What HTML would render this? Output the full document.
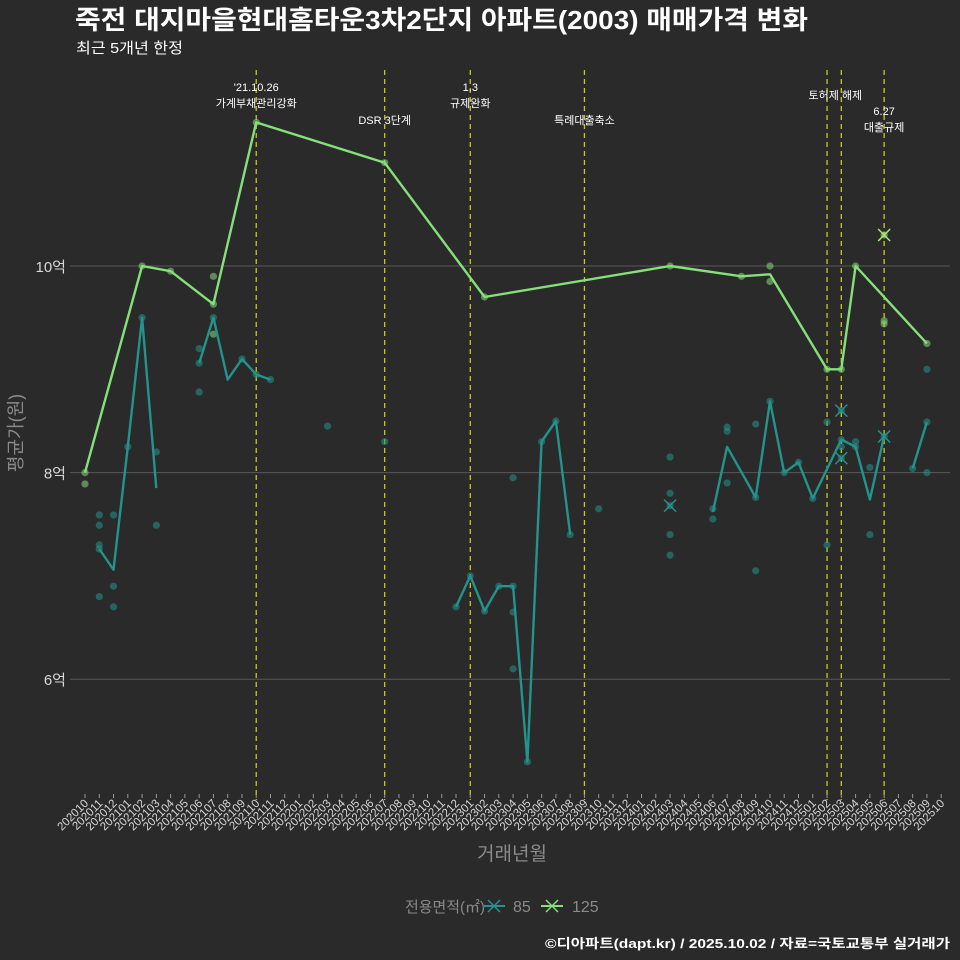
<!DOCTYPE html>
<html><head><meta charset="utf-8"><style>
html,body{margin:0;padding:0;background:#2a2a2a;}
svg{display:block;font-family:"Liberation Sans","Noto Sans CJK KR",sans-serif;}
</style></head><body>
<svg id="chart" width="960" height="960" viewBox="0 0 960 960" xmlns="http://www.w3.org/2000/svg">
<rect width="960" height="960" fill="#2a2a2a"/>
<text x="75" y="29" font-size="26" font-weight="bold" fill="#ffffff" textLength="733" lengthAdjust="spacingAndGlyphs">죽전 대지마을현대홈타운3차2단지 아파트(2003) 매매가격 변화</text>
<text x="76" y="53" font-size="15" fill="#ffffff" textLength="107" lengthAdjust="spacingAndGlyphs">최근 5개년 한정</text>
<g id="grid"></g><g id="vlines"></g><g id="marks"></g><g id="axes"></g>
<text transform="translate(22,433) rotate(-90)" text-anchor="middle" font-size="18" fill="#8a8a8a">평균가(원)</text>
<text x="512" y="860" text-anchor="middle" font-size="19" fill="#8a8a8a">거래년월</text>
<g>
<text x="405" y="912" font-size="15" fill="#8a8a8a" textLength="80" lengthAdjust="spacingAndGlyphs">전용면적(㎡)</text>
<g><line x1="483" y1="906" x2="505" y2="906" stroke="#23938c" stroke-width="2"/><path d="M488 900 L500 912 M500 900 L488 912" stroke="#23938c" stroke-width="1.5"/><text x="513" y="912" font-size="16" fill="#8a8a8a">85</text></g>
<g><line x1="541" y1="906" x2="563" y2="906" stroke="#86e07a" stroke-width="2"/><path d="M546 900 L558 912 M558 900 L546 912" stroke="#86e07a" stroke-width="1.5"/><text x="572" y="912" font-size="16" fill="#8a8a8a">125</text></g>
</g>
<text x="950" y="948" text-anchor="end" font-size="13" font-weight="bold" fill="#ffffff" textLength="405" lengthAdjust="spacingAndGlyphs">©디아파트(dapt.kr) / 2025.10.02 / 자료=국토교통부 실거래가</text>
</svg>
<script>
const yTicks = [6, 8, 10];
const yTickLabels = ['6억', '8억', '10억'];
const months = [];
for (let y = 2020, m = 10; months.length < 61; ) { months.push(y + String(m).padStart(2, '0')); m++; if (m > 12) { m = 1; y++; } }
const line125Idx = [0, 4, 6, 9, 12, 21, 28, 41, 46, 48, 52, 53, 54, 59];
const line125Val = [8.0, 10.0, 9.95, 9.63, 11.39, 11.0, 9.7, 10.0, 9.9, 9.92, 9.0, 9.0, 10.0, 9.25];
const line85Idx = [1, 2, 3, 4, 5, null, 8, 9, 10, 11, 12, 13, null, 26, 27, 28, 29, 30, 31, 32, 33, 34, null, 44, 45, 47, 48, 49, 50, 51, 53, 54, 55, 56, null, 58, 59];
const line85Val = [7.26, 7.06, 8.25, 9.5, 7.85, null, 9.06, 9.5, 8.9, 9.1, 8.95, 8.9, null, 6.7, 7.0, 6.66, 6.9, 6.9, 5.2, 8.3, 8.5, 7.4, null, 7.62, 8.25, 7.76, 8.69, 8.0, 8.1, 7.75, 8.32, 8.25, 7.74, 8.35, null, 8.04, 8.49];
const pts85Idx = [1, 1, 1, 1, 1, 2, 2, 2, 3, 4, 5, 5, 8, 8, 8, 9, 11, 12, 13, 17, 21, 26, 27, 28, 29, 30, 30, 30, 30, 31, 32, 33, 34, 36, 41, 41, 41, 41, 44, 44, 45, 45, 45, 47, 47, 47, 48, 49, 50, 51, 52, 52, 53, 53, 54, 54, 55, 55, 58, 59, 59, 59];
const pts85Val = [7.59, 7.49, 7.3, 7.26, 6.8, 7.59, 6.9, 6.7, 8.25, 9.5, 8.2, 7.49, 9.2, 8.78, 9.06, 9.5, 9.1, 8.95, 8.9, 8.45, 8.3, 6.7, 7.0, 6.66, 6.9, 6.9, 6.65, 6.1, 7.95, 5.2, 8.3, 8.5, 7.4, 7.65, 8.15, 7.8, 7.4, 7.2, 7.65, 7.55, 8.44, 8.4, 7.9, 7.76, 8.47, 7.05, 8.69, 8.0, 8.1, 7.75, 8.49, 7.3, 8.32, 8.25, 8.25, 8.3, 8.05, 7.4, 8.04, 8.49, 9.0, 8.0];
const cross85Idx = [41, 53, 53, 56];
const cross85Val = [7.68, 8.6, 8.14, 8.35];
const pts125Idx = [0, 0, 4, 6, 9, 9, 9, 12, 21, 28, 41, 46, 48, 48, 52, 53, 54, 56, 56, 59];
const pts125Val = [8.0, 7.89, 10.0, 9.95, 9.63, 9.9, 9.34, 11.39, 11.0, 9.7, 10.0, 9.9, 10.0, 9.85, 9.0, 9.0, 10.0, 9.47, 9.44, 9.25];
const cross125Idx = [56];
const cross125Val = [10.3];
const eventIdx = [12, 21, 27, 35, 52, 53, 56];
const eventLabels = [["'21.10.26", "가계부채관리강화"], ["DSR 3단계"], ["1.3", "규제완화"], ["특례대출축소"], [], ["토허제 해제"], ["6.27", "대출규제"]];
const eventLabelY = [91, 124, 91, 124, 0, 99, 115];

const X0 = 85, DX = 14.27;
const xs = i => X0 + i * DX;
const ys = v => 266 + (10 - v) * 103.3;
const NS = 'http://www.w3.org/2000/svg';
function mk(tag, attrs, parent) { const e = document.createElementNS(NS, tag); for (const k in attrs) e.setAttribute(k, attrs[k]); parent.appendChild(e); return e; }
const grid = document.getElementById('grid'), vl = document.getElementById('vlines'), marks = document.getElementById('marks'), axes = document.getElementById('axes');

yTicks.forEach((v, i) => {
  const l = mk('line', { x1: 70, x2: 950, y1: ys(v), y2: ys(v), stroke: '#585858', 'stroke-width': 1 }, grid);
  
  
  const t = mk('text', { x: 66, y: ys(v) + 6, 'text-anchor': 'end', 'font-size': 15, fill: '#d8d8d8' }, axes);
  t.textContent = yTickLabels[i];
  
  
});
months.forEach((m, i) => {
  const tk = mk('line', { x1: xs(i), x2: xs(i), y1: 794, y2: 798, stroke: '#999', 'stroke-width': 1 }, axes);
  
  
  const t = mk('text', { transform: `translate(${xs(i) + 4},804) rotate(-45)`, 'text-anchor': 'end', 'font-size': 11.5, fill: '#d8d8d8' }, axes);
  t.textContent = m;
  
  
});
eventIdx.forEach((idx, i) => {
  const l = mk('line', { x1: xs(idx), x2: xs(idx), y1: 70, y2: 800, stroke: '#c8c81e', 'stroke-width': 1.3, 'stroke-dasharray': '5,4' }, vl);
  
  
  const cx = idx === 53 ? xs(idx) - 6 : xs(idx);
  eventLabels[i].forEach((s, j) => {
    const t = mk('text', { x: cx, y: eventLabelY[i] + j * 16, 'text-anchor': 'middle', 'font-size': 11, fill: '#ffffff' }, vl);
    t.textContent = s;
    
    
  });
});
function drawPts(idx, val, color, name) {
  idx.forEach((d, i) => {
    const c = mk('circle', { cx: xs(d), cy: ys(val[i]), r: 3.6, fill: color, 'fill-opacity': 0.55 }, marks);
    
    
  });
}
function drawLine(idx, val, color, name) {
  let d = '', pen = false;
  idx.forEach((m, i) => {
    if (m === null) { pen = false; return; }
    d += (pen ? 'L' : 'M') + xs(m).toFixed(1) + ' ' + ys(val[i]).toFixed(1) + ' ';
    pen = true;
  });
  const p = mk('path', { d, fill: 'none', stroke: color, 'stroke-width': 2.4, 'stroke-linejoin': 'round' }, marks);
  
  
}
function drawCross(idx, val, color, name) {
  idx.forEach((d, i) => {
    const x = xs(d), y = ys(val[i]);
    const c = mk('circle', { cx: x, cy: y, r: 3.6, fill: color, 'fill-opacity': 0.55 }, marks);
    
    
    const p = mk('path', { d: `M${x - 6} ${y - 6}L${x + 6} ${y + 6}M${x + 6} ${y - 6}L${x - 6} ${y + 6}`, stroke: color, 'stroke-width': 1.5 }, marks);
    
    
  });
}
drawPts(pts85Idx, pts85Val, '#23938c', 'point-85');
drawPts(pts125Idx, pts125Val, '#86d87a', 'point-125');
drawLine(line85Idx, line85Val, '#23938c', 'line-85');
drawLine(line125Idx, line125Val, '#86e07a', 'line-125');
drawCross(cross85Idx, cross85Val, '#23938c', 'cross-85');
drawCross(cross125Idx, cross125Val, '#a6e87a', 'cross-125');
</script>
</body></html>
